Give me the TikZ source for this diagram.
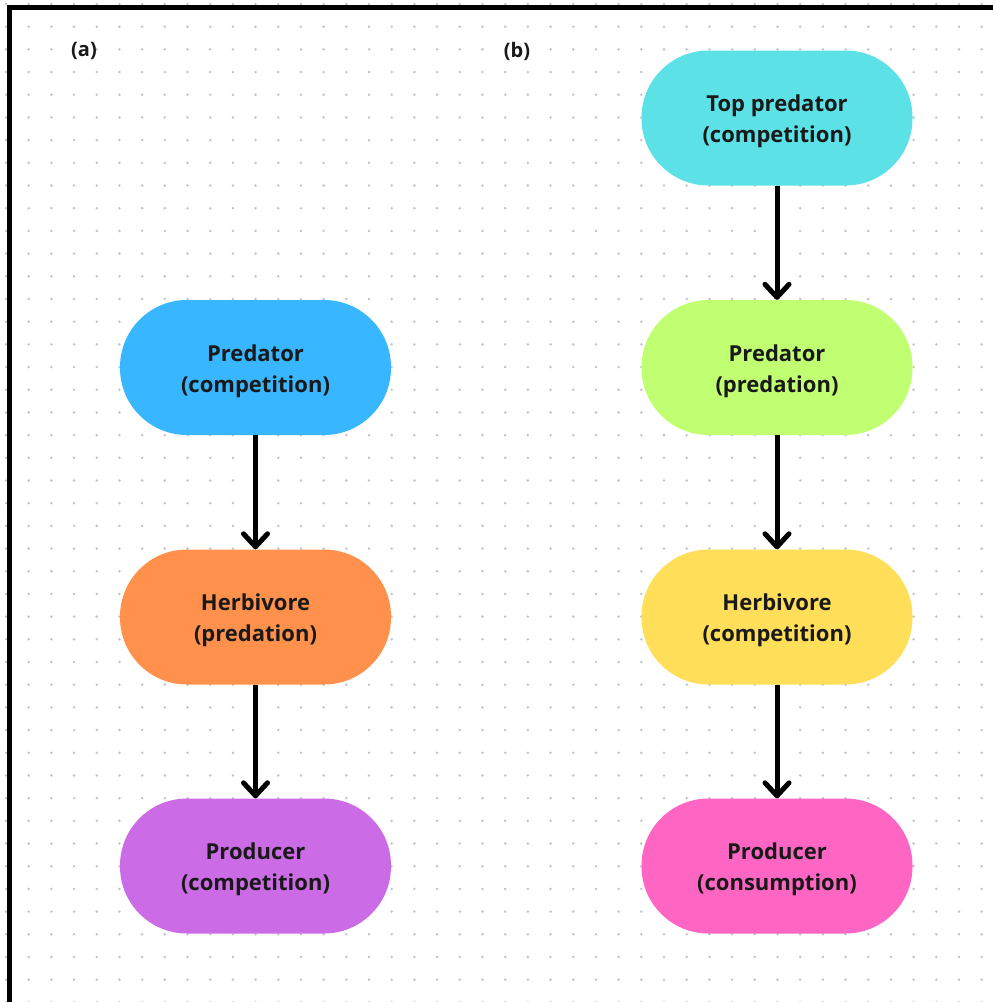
\documentclass[tikz,border=0pt]{standalone}
\usepackage{fontspec}
\setmainfont{Open Sans}
\usetikzlibrary{arrows.meta}
\definecolor{dotgrey}{RGB}{190,196,208}
\definecolor{cTop}{RGB}{92,225,230}
\definecolor{cPredA}{RGB}{56,182,255}
\definecolor{cHerbA}{RGB}{255,145,77}
\definecolor{cProdA}{RGB}{203,108,230}
\definecolor{cPredB}{RGB}{193,255,114}
\definecolor{cHerbB}{RGB}{255,222,89}
\definecolor{cProdB}{RGB}{255,102,196}
\tikzset{
  level/.style={rounded corners=67pt, minimum width=271pt, minimum height=135pt,
    inner sep=0pt, align=center, font=\fontsize{22}{31}\selectfont\bfseries,
    text height=55pt, text=black!90},
  link/.style={line width=5pt, -{Straight Barb[length=13pt,width=24pt,line cap=round,line join=round]}},
  panel/.style={font=\fontsize{20}{22}\selectfont\bfseries, text=black!90}
}
\begin{document}
\begin{tikzpicture}[x=1pt,y=-1pt]
\useasboundingbox (0,0) rectangle (993,1002);
% dotted grid background
\foreach \i in {0,...,43}{
  \foreach \j in {0,...,44}{
    \fill[dotgrey] (6+22.69*\i,4+22.69*\j) circle (1.4pt);
  }
}
% frame
\draw[line width=5pt, line join=miter] (9.5,1010) -- (9.5,7.5) -- (1000,7.5);
% panel labels
\node[panel] (la) at (84,51) {(a)};
\node[panel] (lb) at (517,51) {(b)};
% panel (a)
\node[level, fill=cPredA] (pa) at (255.5,367.5) {Predator\\(competition)};
\node[level, fill=cHerbA] (ha) at (255.5,617) {Herbivore\\(predation)};
\node[level, fill=cProdA] (ra) at (255.5,866) {Producer\\(competition)};
% panel (b)
\node[level, fill=cTop] (tb) at (777,118) {Top predator\\(competition)};
\node[level, fill=cPredB] (pb) at (777,367.5) {Predator\\(predation)};
\node[level, fill=cHerbB] (hb) at (777,617) {Herbivore\\(competition)};
\node[level, fill=cProdB] (rb) at (777,866) {Producer\\(consumption)};
% trophic links
\draw[link] (pa) -- (ha);
\draw[link] (ha) -- (ra);
\draw[link] (tb) -- (pb);
\draw[link] (pb) -- (hb);
\draw[link] (hb) -- (rb);
\end{tikzpicture}
\end{document}
